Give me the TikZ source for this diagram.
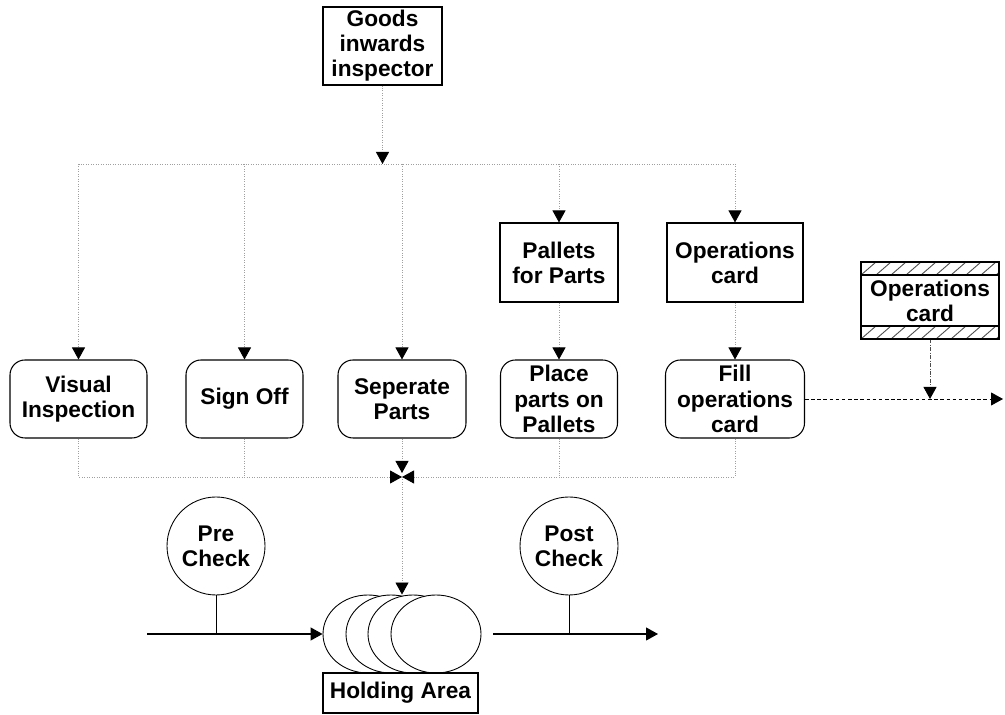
\documentclass[tikz,border=0pt]{standalone}
\usepackage{fontspec}
\setmainfont{Liberation Sans}
\usetikzlibrary{arrows.meta,shapes.geometric}

\tikzset{
  every node/.style={font=\fontsize{12.9pt}{14.3pt}\selectfont\bfseries, inner sep=1pt, align=center},
  flow/.style={gray!75, line width=0.5pt, dash pattern=on 0.5pt off 0.9pt},
  arr/.style={-{Triangle[length=2.4mm,width=2.6mm,black]}},
  task/.style={draw, rounded corners=3mm, minimum height=1.56cm, line width=0.6pt},
  thing/.style={draw, minimum height=1.58cm, line width=0.6pt},
  checkpt/.style={draw, circle, minimum size=1.96cm, line width=0.5pt},
  hatch/.style={black!70, line width=0.5pt}
}

\begin{document}
\begin{tikzpicture}
\useasboundingbox (0,0) rectangle (20.1,14.3);

% Inspector at the top
\node[draw, line width=0.6pt, minimum width=2.38cm, minimum height=1.56cm] (goods) at (7.65,13.38) {Goods\\inwards\\inspector};

% Resources
\node[thing, minimum width=2.36cm] (pallets) at (11.18,9.05) {Pallets\\for Parts};
\node[thing, minimum width=2.72cm] (opscard) at (14.70,9.05) {Operations\\card};

% Activities
\node[task, minimum width=2.74cm] (vis) at (1.57,6.32) {Visual\\Inspection};
\node[task, minimum width=2.34cm] (sign) at (4.89,6.32) {Sign Off};
\node[task, minimum width=2.56cm] (sep) at (8.04,6.32) {Seperate\\Parts};
\node[task, minimum width=2.34cm] (place) at (11.18,6.32) {Place\\parts on\\Pallets};
\node[task, minimum width=2.78cm] (fill) at (14.70,6.32) {Fill\\operations\\card};

% Distribution bus from the inspector
\coordinate (bus) at (7.65,11.02);
\draw[flow, arr] (goods) -- (bus);
\draw[flow] (bus -| vis) -- (bus -| opscard);
\foreach \n in {vis,sign,sep,pallets,opscard} {
    \draw[flow, arr] (bus -| \n) -- (\n);
}
\draw[flow, arr] (pallets) -- (place);
\draw[flow, arr] (opscard) -- (fill);

% Collecting bus into the junction
\coordinate (jn) at (8.04,4.76);
\draw[flow, arr] (vis.south) |- (jn);
\draw[flow] (sign.south) -- (sign.south |- jn);
\draw[flow, arr] (fill.south) |- (jn);
\draw[flow] (place.south) -- (place.south |- jn);
\draw[flow, arr, shorten >=0.08cm] (sep) -- (jn);

% Holding area stack
\foreach \i/\x in {1/7.36,2/7.82,3/8.26,4/8.72} {
    \node[draw, fill=white, ellipse, minimum width=1.8cm, minimum height=1.56cm, inner sep=0pt, line width=0.5pt] (h\i) at (\x,1.62) {};
}
\node[draw, line width=0.6pt, minimum width=3.1cm, minimum height=0.8cm] (hold) at (8.01,0.44) {Holding Area};
\draw[flow, arr] (jn) -- (jn |- h3.north);

% Checks on the through line
\node[checkpt] (pre) at (4.32,3.38) {Pre\\Check};
\node[checkpt] (post) at (11.38,3.38) {Post\\Check};
\coordinate (src) at (2.94,1.62);
\coordinate (mid) at (9.86,1.62);
\coordinate (sink) at (13.16,1.62);
\draw[line width=0.6pt, arr] (src) -- (h1.west);
\draw[line width=0.6pt, arr] (mid) -- (sink);
\draw[line width=0.5pt] (pre) -- (pre |- src);
\draw[line width=0.5pt] (post) -- (post |- mid);

% Filled-in card (hatched bands)
\node[draw, line width=0.6pt, minimum width=2.76cm, minimum height=1.54cm] (card) at (18.60,8.29) {Operations\\card};
\foreach \yb in {8.80,7.52} {
    \begin{scope}
        \clip (17.22,\yb) rectangle (19.98,\yb+0.26);
        \foreach \i in {-1,...,9} {
            \draw[hatch] (17.22+\i*0.3,\yb) -- ++(0.3,0.26);
        }
    \end{scope}
    \draw[line width=0.6pt] (17.22,\yb) rectangle (19.98,\yb+0.26);
}

% Output of the card
\coordinate (out) at (20.06,6.32);
\draw[line width=0.5pt, dash pattern=on 2pt off 1.5pt, arr] (fill) -- (out);
\draw[gray!60!black, line width=0.5pt, dash pattern=on 2pt off 1pt on 0.5pt off 1pt, arr] (card) -- (card |- out);

\end{tikzpicture}
\end{document}
